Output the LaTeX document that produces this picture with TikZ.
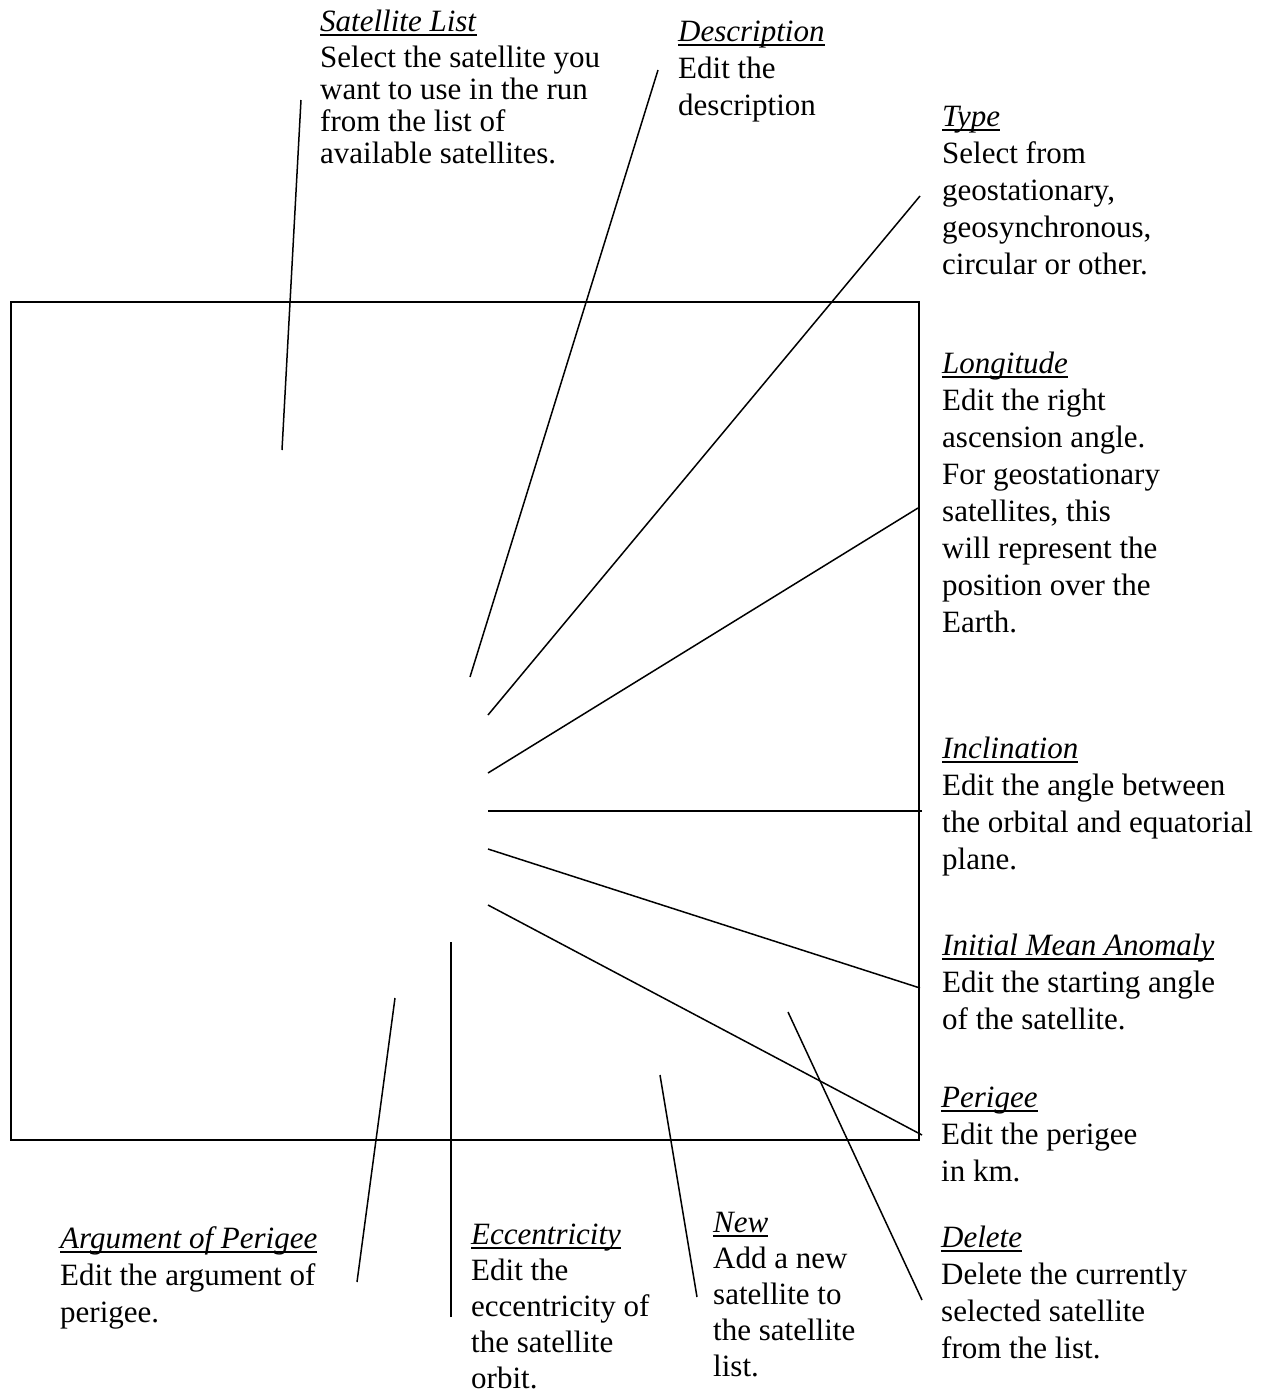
\documentclass[tikz,border=0pt]{standalone}
\usepackage{fontspec}
\setmainfont{Liberation Serif}
\usepackage{tikz}

\newsavebox{\ttlbox}
\newcommand{\ttl}[1]{\sbox{\ttlbox}{\textit{#1}}\rlap{\rule[-5pt]{\wd\ttlbox}{1.8pt}}\usebox{\ttlbox}}

\begin{document}
\begin{tikzpicture}[x=1pt,y=-1pt,
  note/.style={anchor=base west,align=left,inner sep=0pt,font=\fontsize{31}{37}\selectfont},
  leader/.style={line width=1.5pt}]
\useasboundingbox (0,0) rectangle (1274,1393);

% the screen area
\node[draw,line width=2.2pt,anchor=north west,inner sep=0pt,minimum width=908pt,minimum height=838pt] (screen) at (10,301) {};

% labels round the screen (placed by the baseline of their last line)
\node[note,font=\fontsize{31}{32}\selectfont] (satlist) at (320,163) {\ttl{Satellite List}\\[4pt]Select the satellite you\\want to use in the run\\from the list of\\available satellites.};
\node[note] (descr) at (678,115) {\ttl{Description}\\Edit the\\description};
\node[note] (type) at (942,274) {\ttl{Type}\\Select from\\geostationary,\\geosynchronous,\\circular or other.};
\node[note] (longit) at (942,632) {\ttl{Longitude}\\Edit the right\\ascension angle.\\For geostationary\\satellites, this\\will represent the\\position over the\\Earth.};
\node[note] (incl) at (942,869) {\ttl{Inclination}\\Edit the angle between\\the orbital and equatorial\\plane.};
\node[note] (anomaly) at (942,1029) {\ttl{Initial Mean Anomaly}\\Edit the starting angle\\of the satellite.};
\node[note] (perigee) at (941,1181) {\ttl{Perigee}\\Edit the perigee\\in km.};
\node[note] (delete) at (941,1358) {\ttl{Delete}\\Delete the currently\\selected satellite\\from the list.};
\node[note,font=\fontsize{31}{36}\selectfont] (new) at (713,1376) {\ttl{New}\\Add a new\\satellite to\\the satellite\\list.};
\node[note,font=\fontsize{31}{36}\selectfont] (ecc) at (471,1388) {\ttl{Eccentricity}\\Edit the\\eccentricity of\\the satellite\\orbit.};
\node[note] (argper) at (60,1322) {\ttl{Argument of Perigee}\\Edit the argument of\\perigee.};

% leader ends
\coordinate (satlist-a) at (301,100);  \coordinate (satlist-b) at (282,450);
\coordinate (descr-a) at (658,70);     \coordinate (descr-b) at (470,677);
\coordinate (type-a) at (920,196);     \coordinate (type-b) at (488,715);
\coordinate (longit-a) at (918,508);   \coordinate (longit-b) at (488,773);
\coordinate (incl-a) at (922,811);     \coordinate (incl-b) at (488,811);
\coordinate (anomaly-a) at (920,988);  \coordinate (anomaly-b) at (488,849);
\coordinate (perigee-a) at (922,1135); \coordinate (perigee-b) at (488,905);
\coordinate (delete-a) at (922,1300);  \coordinate (delete-b) at (788,1012);
\coordinate (new-a) at (697,1297);     \coordinate (new-b) at (660,1075);
\coordinate (ecc-a) at (451,1317);     \coordinate (ecc-b) at (451,942);
\coordinate (argper-a) at (357,1282);  \coordinate (argper-b) at (395,998);

\foreach \n in {satlist,descr,type,longit,incl,anomaly,perigee,delete,new,ecc,argper}
  \draw[leader] (\n-a) -- (\n-b);
\end{tikzpicture}
\end{document}
